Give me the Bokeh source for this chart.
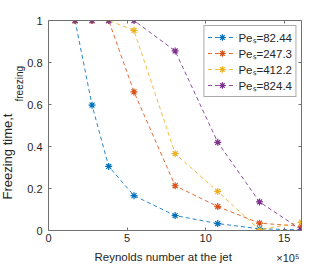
from bokeh.plotting import figure
from bokeh.models import Range1d, LinearAxis, Legend, LegendItem, FixedTicker, Title
from bokeh.embed import file_html
from bokeh.resources import INLINE

# Reynolds number at the jet (x 1e5)
reynolds = [1.69, 2.77, 3.83, 5.44, 8.06, 10.77, 13.43, 16.1]
series_labels = ["Peₛ=82.44", "Peₛ=247.3", "Peₛ=412.2", "Peₛ=824.4"]
t_pe_82 = [1.0, 0.597, 0.305, 0.166, 0.071, 0.033, 0.008, 0.003]
t_pe_247 = [1.0, 1.0, 1.0, 0.66, 0.213, 0.114, 0.035, 0.02]
t_pe_412 = [1.0, 1.0, 1.0, 0.953, 0.366, 0.186, 0.003, 0.04]
t_pe_824 = [1.0, 1.0, 1.0, 1.0, 0.855, 0.42, 0.136, 0.003]
x_ticks = [0, 5, 10, 15]
y_ticks = [0, 0.2, 0.4, 0.6, 0.8, 1]
colors = ["#0072BD", "#D95319", "#EDB120", "#7E2F8E"]

FONT = "Liberation Sans"
TXT = "#262626"
AX = "#707070"

p = figure(width=332, height=266, x_range=Range1d(0, 16.1), y_range=Range1d(0, 1),
           output_backend="svg", toolbar_location=None,
           min_border_left=43, min_border_right=31, min_border_top=20, min_border_bottom=35,
           x_axis_location=None, y_axis_location=None)
p.grid.visible = False
p.outline_line_color = None

def make_axis(ticks, show_labels):
    ax = LinearAxis(ticker=FixedTicker(ticks=ticks))
    ax.axis_line_color = AX
    ax.major_tick_line_color = AX
    ax.major_tick_in = 3
    ax.major_tick_out = 0
    ax.minor_tick_line_color = None
    ax.major_label_text_font = FONT
    ax.major_label_text_color = TXT
    ax.major_label_text_font_size = "11px"
    if not show_labels:
        ax.major_label_overrides = {t: "" for t in ticks}
        ax.major_label_standoff = 0
    return ax

bx = make_axis(x_ticks, True); bx.major_label_standoff = 3
ly = make_axis(y_ticks, True); ly.major_label_standoff = 6
tx = make_axis(x_ticks, False)
ry = make_axis(y_ticks, False)
p.add_layout(bx, "below")
p.add_layout(ly, "left")
p.add_layout(tx, "above")
p.add_layout(ry, "right")

def title(text, size, align, offset, standoff, valign="bottom"):
    return Title(text=text, text_font=FONT, text_font_size=size, text_font_style="normal",
                 text_color=TXT, align=align, offset=offset, standoff=standoff,
                 vertical_align=valign)

# y-axis title: main text and its subscript
p.add_layout(title("freezing", "10px", "left", 129, 0), "left")
p.add_layout(title("Freezing time,t", "13px", "left", 31, -6), "left")
# x-axis title and the x10^5 multiplier
p.add_layout(title("Reynolds number at the jet", "11.5px", "left", 46, 8), "below")
p.add_layout(title("×10⁵", "11px", "right", 2, -29, "top"), "below")

items = []
for ys, c, lab in zip([t_pe_82, t_pe_247, t_pe_412, t_pe_824], colors, series_labels):
    r1 = p.line(reynolds, ys, line_color=c, line_width=1, line_dash="4 3", line_alpha=0.85)
    r2 = p.scatter(reynolds, ys, marker="asterisk", size=7, line_color=c, line_width=1.2)
    items.append(LegendItem(label=lab, renderers=[r1, r2]))

leg = Legend(items=items, location="top_right")
leg.label_text_font = FONT
leg.label_text_font_size = "11.5px"
leg.label_text_color = TXT
leg.glyph_width = 29
leg.glyph_height = 16
leg.label_height = 16
leg.label_standoff = 2
leg.spacing = 0
leg.padding = 3
leg.margin = 5
leg.border_line_color = "#555555"
leg.border_line_width = 1
leg.background_fill_alpha = 1
p.add_layout(leg)

open("out.html", "w").write(file_html(p, INLINE))
